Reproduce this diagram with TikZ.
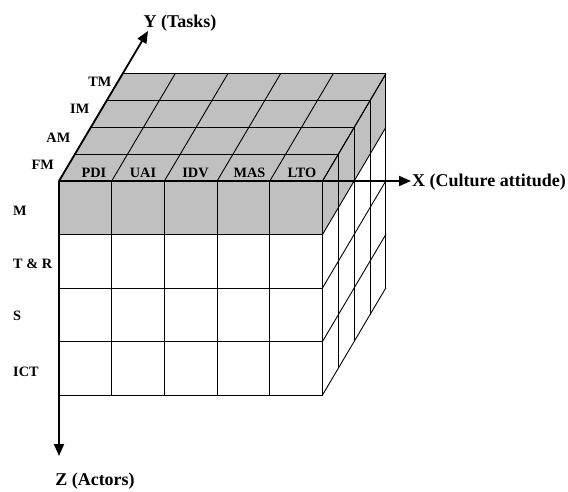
\documentclass[tikz,border=0pt]{standalone}
\usepackage{fontspec}
\setmainfont{Liberation Serif}
\usetikzlibrary{arrows.meta,calc}
\definecolor{cellgray}{RGB}{192,192,192}
\begin{document}
\begin{tikzpicture}[x=1pt,y=1pt,
  gridline/.style={line width=0.9pt, black},
  axisline/.style={line width=1.8pt, -{Triangle[length=12pt,width=10pt]}},
  lab/.style={font=\fontsize{14.3}{16}\selectfont\bfseries, inner sep=0pt},
  axlab/.style={font=\fontsize{18}{20}\selectfont\bfseries, inner sep=0pt}]
\useasboundingbox (0,0) rectangle (568,-492);
\def\cw{52.7}
\def\rh{53.5}
\def\ddx{15.85}
\def\ddy{26.8}
\coordinate (O) at (59,-181);
% shaded parts
\fill[cellgray] (O) -- ++(5*\cw,0) -- ++(4*\ddx,4*\ddy) -- ++(-5*\cw,0) -- cycle;
\fill[cellgray] (O) rectangle ++(5*\cw,-\rh);
\fill[cellgray] ($(O)+(5*\cw,0)$) -- ++(4*\ddx,4*\ddy) -- ++(0,-\rh) -- ++(-4*\ddx,-4*\ddy) -- cycle;
% grid
\foreach \i in {0,...,5} {
  \draw[gridline] ($(O)+(\i*\cw,0)$) -- ++(0,-4*\rh);
  \draw[gridline] ($(O)+(\i*\cw,0)$) -- ++(4*\ddx,4*\ddy);
}
\foreach \j in {0,...,4} {
  \draw[gridline] ($(O)+(0,-\j*\rh)$) -- ++(5*\cw,0);
  \draw[gridline] ($(O)+(5*\cw,-\j*\rh)$) -- ++(4*\ddx,4*\ddy);
}
\foreach \k in {0,...,4} {
  \draw[gridline] ($(O)+(\k*\ddx,\k*\ddy)$) -- ++(5*\cw,0);
  \draw[gridline] ($(O)+(5*\cw+\k*\ddx,\k*\ddy)$) -- ++(0,-4*\rh);
}
% axes
\coordinate (xend) at (411,-181);
\coordinate (yend) at (148,-31);
\coordinate (zend) at (59,-456);
\draw[axisline] (O) -- (xend);
\draw[axisline] (O) -- (yend);
\draw[axisline] (O) -- (zend);
\node[axlab, anchor=base west] (xlab) at (412,-186.5) {X (Culture attitude)};
\node[axlab, anchor=base] (ylab) at (180,-28) {Y (Tasks)};
\node[axlab, anchor=base] (zlab) at (95,-485) {Z (Actors)};
% depth labels
\node[lab, anchor=east] (tm) at (111.5,-82) {TM};
\node[lab, anchor=east] (im) at (89.5,-109) {IM};
\node[lab, anchor=east] (am) at (70.5,-137.5) {AM};
\node[lab, anchor=east] (fm) at (54,-165) {FM};
% row labels
\node[lab, anchor=west] (m) at (13,-211) {M};
\node[lab, anchor=west] (tr) at (13,-264) {T \& R};
\node[lab, anchor=west] (s) at (13,-316) {S};
\node[lab, anchor=west] (ict) at (13,-372) {ICT};
% column labels
\node[lab] (pdi) at (94,-173) {PDI};
\node[lab] (uai) at (143,-173) {UAI};
\node[lab] (idv) at (195.5,-173) {IDV};
\node[lab] (mas) at (249.5,-173) {MAS};
\node[lab] (lto) at (302,-173) {LTO};
\end{tikzpicture}
\end{document}
